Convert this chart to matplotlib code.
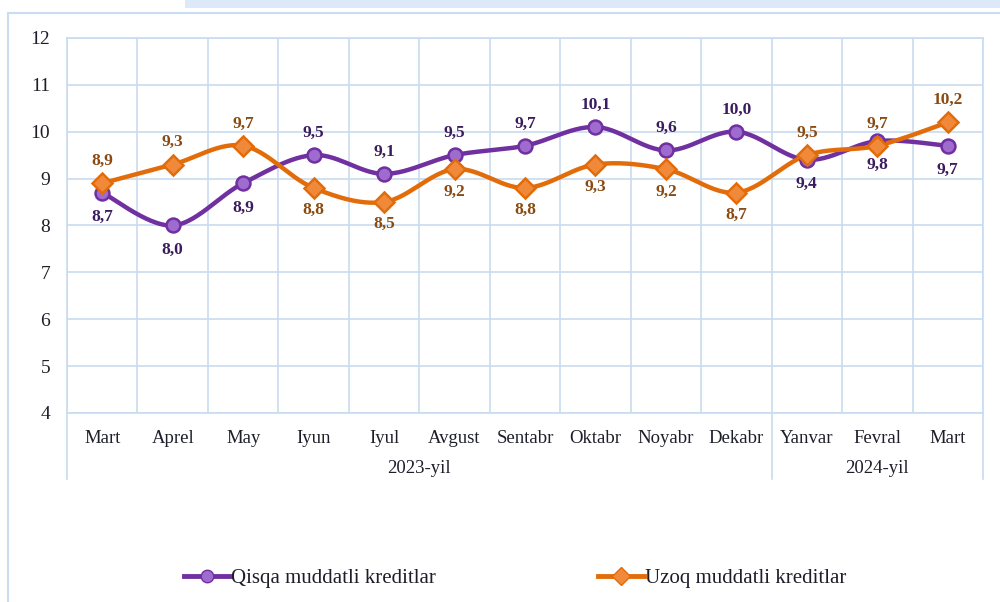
import numpy as np
import matplotlib
matplotlib.use("Agg")
from matplotlib import pyplot as plt
from matplotlib.patches import Rectangle
from matplotlib.lines import Line2D

months = ["Mart", "Aprel", "May", "Iyun", "Iyul", "Avgust", "Sentabr", "Oktabr",
          "Noyabr", "Dekabr", "Yanvar", "Fevral", "Mart"]
years = ["2023-yil", "2024-yil"]
year_counts = [10, 3]
qisqa = [8.7, 8.0, 8.9, 9.5, 9.1, 9.5, 9.7, 10.1, 9.6, 10.0, 9.4, 9.8, 9.7]
uzoq = [8.9, 9.3, 9.7, 8.8, 8.5, 9.2, 8.8, 9.3, 9.2, 8.7, 9.5, 9.7, 10.2]
# label above (+1) or below (-1) the marker
qisqa_pos = [-1, -1, -1, 1, 1, 1, 1, 1, 1, 1, -1, -1, -1]
uzoq_pos = [1, 1, 1, -1, -1, -1, -1, -1, -1, -1, 1, 1, 1]

PURPLE = "#7030a0"
PURPLE_FACE = "#9e6ccf"
ORANGE = "#e36c0a"
ORANGE_FACE = "#f08a3a"
PURPLE_TXT = "#3b1d5e"
ORANGE_TXT = "#8a4a12"
GRID = "#c9dcf0"
TXT = "#1e1e2a"

plt.rcParams['font.family'] = ['Liberation Serif', 'DejaVu Serif']


def smooth(y, n=30):
    # bezier curve through the points, like a smoothed line in a spreadsheet
    y = np.asarray(y, float)
    x = np.arange(len(y), dtype=float)
    xs, ys = [], []
    for i in range(len(y) - 1):
        p0 = np.array([x[max(i - 1, 0)], y[max(i - 1, 0)]])
        p1 = np.array([x[i], y[i]])
        p2 = np.array([x[i + 1], y[i + 1]])
        p3 = np.array([x[min(i + 2, len(y) - 1)], y[min(i + 2, len(y) - 1)]])
        c1 = p1 + (p2 - p0) / 6
        c2 = p2 - (p3 - p1) / 6
        t = np.linspace(0, 1, n)[:, None]
        pts = (1 - t) ** 3 * p1 + 3 * (1 - t) ** 2 * t * c1 + 3 * (1 - t) * t ** 2 * c2 + t ** 3 * p2
        xs.extend(pts[:, 0]); ys.extend(pts[:, 1])
    return np.array(xs), np.array(ys)


fig = plt.figure(figsize=(10, 6.02), dpi=100)
ax = fig.add_axes([0.067, 0.314, 0.916, 0.623])

# outer frame of the chart
fig.patches.append(Rectangle((0.008, -0.01), 1.0, 1 - 13 / 602 + 0.01, transform=fig.transFigure,
                             fill=False, edgecolor=GRID, lw=1.5))
fig.patches.append(Rectangle((0.185, 1 - 8 / 602), 0.82, 0.02, transform=fig.transFigure,
                             facecolor="#dde9f8", edgecolor="none"))

x = np.arange(len(months))
ax.set_xlim(-0.5, len(months) - 0.5)
ax.set_ylim(4, 12)
ax.set_yticks(range(4, 13))
ax.set_xticks(np.arange(len(months) + 1) - 0.5, minor=False)
ax.set_xticklabels([])
ax.tick_params(axis='x', length=0)
ax.tick_params(axis='y', length=0, labelsize=14, pad=12, labelcolor=TXT)
ax.grid(True, color=GRID, lw=1.2)
ax.set_axisbelow(True)
for s in ax.spines.values():
    s.set_color(GRID)
    s.set_linewidth(1.2)

sx, sy = smooth(qisqa)
ax.plot(sx, sy, color=PURPLE, lw=3.2, zorder=3)
ax.plot(x, qisqa, 'o', ms=10, mfc=PURPLE_FACE, mec=PURPLE, mew=1.8, zorder=4)
sx, sy = smooth(uzoq)
ax.plot(sx, sy, color=ORANGE, lw=3.2, zorder=3)
ax.plot(x, uzoq, 'D', ms=10, mfc=ORANGE_FACE, mec=ORANGE, mew=1.8, zorder=5)

for xi, v, p in zip(x, qisqa, qisqa_pos):
    ax.annotate(f"{v:.1f}".replace(".", ","), (xi, v), xytext=(0, 16 * p if p > 0 else -17.5),
                textcoords='offset points', ha='center', va='center', fontsize=12.5,
                fontweight='bold', color=PURPLE_TXT)
for xi, v, p in zip(x, uzoq, uzoq_pos):
    ax.annotate(f"{v:.1f}".replace(".", ","), (xi, v), xytext=(0, 16 * p if p > 0 else -16),
                textcoords='offset points', ha='center', va='center', fontsize=12.5,
                fontweight='bold', color=ORANGE_TXT)

# category labels and year groups below the axis
trans = ax.get_xaxis_transform()
for xi, m in zip(x, months):
    ax.text(xi, -0.067, m, transform=trans, ha='center', va='center', fontsize=13.5, color=TXT)
start = 0
bounds = [-0.5]
for yname, cnt in zip(years, year_counts):
    ax.text(start + (cnt - 1) / 2, -0.147, yname, transform=trans, ha='center', va='center',
            fontsize=13.5, color=TXT)
    start += cnt
    bounds.append(start - 0.5)
for b in bounds:
    ax.add_line(Line2D([b, b], [0, -0.175], transform=trans, color=GRID, lw=1.2, clip_on=False))

handles = [Line2D([], [], color=PURPLE, lw=3.5, marker='o', ms=9, mfc=PURPLE_FACE, mec=PURPLE),
           Line2D([], [], color=ORANGE, lw=3.5, marker='D', ms=9, mfc=ORANGE_FACE, mec=ORANGE)]
fig.legend(handles, ["Qisqa muddatli kreditlar", "Uzoq muddatli kreditlar"],
           loc='center', bbox_to_anchor=(0.515, 1 - 578 / 602), ncol=2, frameon=False,
           fontsize=15, handlelength=2.2, handletextpad=0.05, columnspacing=7.8,
           labelcolor=TXT)

fig.savefig("out.png", dpi=100)
